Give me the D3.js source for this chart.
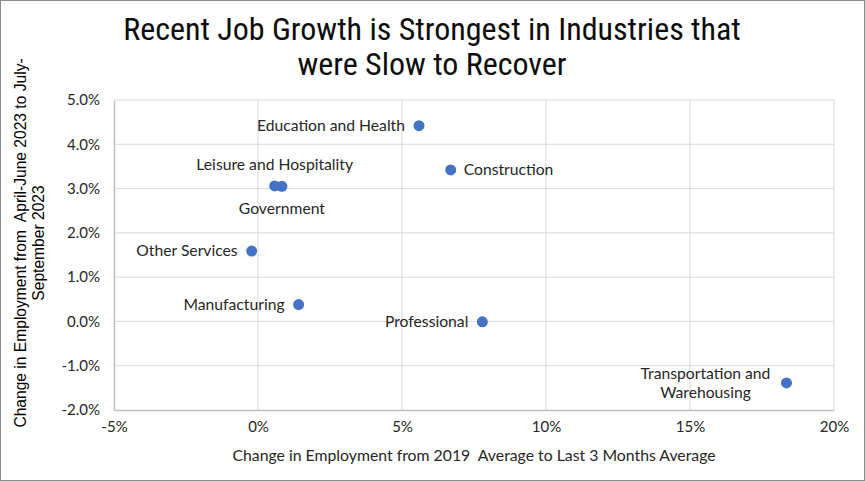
<!DOCTYPE html>
<html>
<head>
<meta charset="utf-8">
<script src="https://cdn.jsdelivr.net/npm/d3@7"></script>
<style>
  body { margin: 0; background: #fff; }
  svg { display: block; }
</style>
</head>
<body>
<svg id="chart" width="865" height="481"></svg>
<script>
// industries and their values
const industries = ['Education and Health', 'Construction', 'Leisure and Hospitality', 'Government',
  'Other Services', 'Manufacturing', 'Professional', 'Transportation and Warehousing']
const growthSince2019 = [5.59, 6.69, 0.58, 0.83, -0.22, 1.41, 7.79, 18.35]
const recentGrowth = [4.42, 3.42, 3.06, 3.05, 1.59, 0.38, -0.01, -1.39]
const xTicks = [-5, 0, 5, 10, 15, 20]
const yTicks = [-2, -1, 0, 1, 2, 3, 4, 5]
const titleLines = ['Recent Job Growth is Strongest in Industries that', 'were Slow to Recover']
const yTitleLines = ['Change in Employment from  April-June 2023 to July-', 'September 2023']
const xTitle = 'Change in Employment from 2019  Average to Last 3 Months Average'

// where each label sits relative to its dot
const labelSide = ['left', 'right', 'above', 'below', 'left', 'left', 'left', 'left']

const W = 865, H = 481
const margin = {left: 114, right: 31, top: 100, bottom: 71}
const font = 'Lato, "Open Sans", sans-serif'
const gridColor = '#d9d9d9'
const dotColor = '#4472c4'

const svg = d3.select('#chart')

svg.append('rect')
  .attr('x', 0.5).attr('y', 0.5)
  .attr('width', W - 1).attr('height', H - 1)
  .style('fill', 'white')
  .style('stroke', '#8c8c8c')

const x = d3.scaleLinear().domain([-5, 20]).range([margin.left, W - margin.right])
const y = d3.scaleLinear().domain([-2, 5]).range([H - margin.bottom, margin.top])

// grid
const grid = svg.append('g')
grid.selectAll('line.v')
  .data(xTicks.slice(1))
  .enter().append('line')
    .attr('x1', d => x(d)).attr('x2', d => x(d))
    .attr('y1', y(5)).attr('y2', y(-2))
    .style('stroke', gridColor)
grid.selectAll('line.h')
  .data(yTicks.slice(1))
  .enter().append('line')
    .attr('x1', x(-5)).attr('x2', x(20))
    .attr('y1', d => y(d)).attr('y2', d => y(d))
    .style('stroke', gridColor)

// axes
const xAxis = svg.append('g')
  .attr('transform', 'translate(0,' + y(-2) + ')')
  .call(d3.axisBottom(x).tickValues(xTicks).tickSize(0).tickPadding(11).tickFormat(d => d + '%'))
const yAxis = svg.append('g')
  .attr('transform', 'translate(' + x(-5) + ',0)')
  .call(d3.axisLeft(y).tickValues(yTicks).tickSize(0).tickPadding(14).tickFormat(d => d.toFixed(1) + '%'))
;[xAxis, yAxis].forEach(a => {
  a.select('.domain').style('stroke', '#bfbfbf').style('stroke-width', 1.5)
  a.selectAll('text')
    .style('font-family', font)
    .style('font-size', '15px')
    .style('fill', '#262626')
})

// dots
const pts = industries.map((name, i) => ({name: name, gx: growthSince2019[i], gy: recentGrowth[i], side: labelSide[i]}))

svg.append('g').selectAll('circle')
  .data(pts)
  .enter().append('circle')
    .attr('cx', d => x(d.gx))
    .attr('cy', d => y(d.gy))
    .attr('r', 5.5)
    .style('fill', dotColor)

// labels
const labels = svg.append('g')
  .style('font-family', font)
  .style('font-size', '15.7px')
  .style('fill', '#262626')

pts.forEach(p => {
  const cx = x(p.gx), cy = y(p.gy)
  let lines = [p.name]
  if (p.name === 'Transportation and Warehousing') lines = ['Transportation and', 'Warehousing']
  const t = labels.append('text')
  if (p.side === 'left') {
    if (lines.length > 1) {
      t.attr('text-anchor', 'middle')
      lines.forEach((l, i) => {
        t.append('tspan').attr('x', cx - 81).attr('y', cy - 4 + i * 19).text(l)
      })
    } else {
      t.attr('x', cx - 14).attr('y', cy + 5).attr('text-anchor', 'end').text(p.name)
    }
  } else if (p.side === 'right') {
    t.attr('x', cx + 13).attr('y', cy + 5).attr('text-anchor', 'start').text(p.name)
  } else if (p.side === 'above') {
    t.attr('x', cx).attr('y', cy - 16).attr('text-anchor', 'middle').text(p.name)
  } else {
    t.attr('x', cx).attr('y', cy + 28).attr('text-anchor', 'middle').text(p.name)
  }
})

// title
svg.append('g').selectAll('text')
  .data(titleLines)
  .enter().append('text')
    .attr('x', 432)
    .attr('y', (d, i) => 40 + i * 35)
    .attr('text-anchor', 'middle')
    .style('font-family', '"Liberation Sans Narrow", "Roboto Condensed", sans-serif')
    .style('font-size', '32px')
    .style('fill', '#0d0d0d')
    .text(d => d)

// axis titles
svg.append('text')
  .attr('x', 474)
  .attr('y', 461)
  .attr('text-anchor', 'middle')
  .style('font-family', font)
  .style('font-size', '15.8px')
  .style('fill', '#262626')
  .style('white-space', 'pre')
  .text(xTitle)

svg.append('g')
  .attr('transform', 'translate(26,243) rotate(-90)')
  .selectAll('text')
  .data(yTitleLines)
  .enter().append('text')
    .attr('x', 0)
    .attr('y', (d, i) => i * 18)
    .attr('text-anchor', 'middle')
    .style('font-family', '"Liberation Sans", Arial, sans-serif')
    .style('font-size', '15.6px')
    .style('fill', '#000')
    .style('white-space', 'pre')
    .text(d => d)
</script>
</body>
</html>
